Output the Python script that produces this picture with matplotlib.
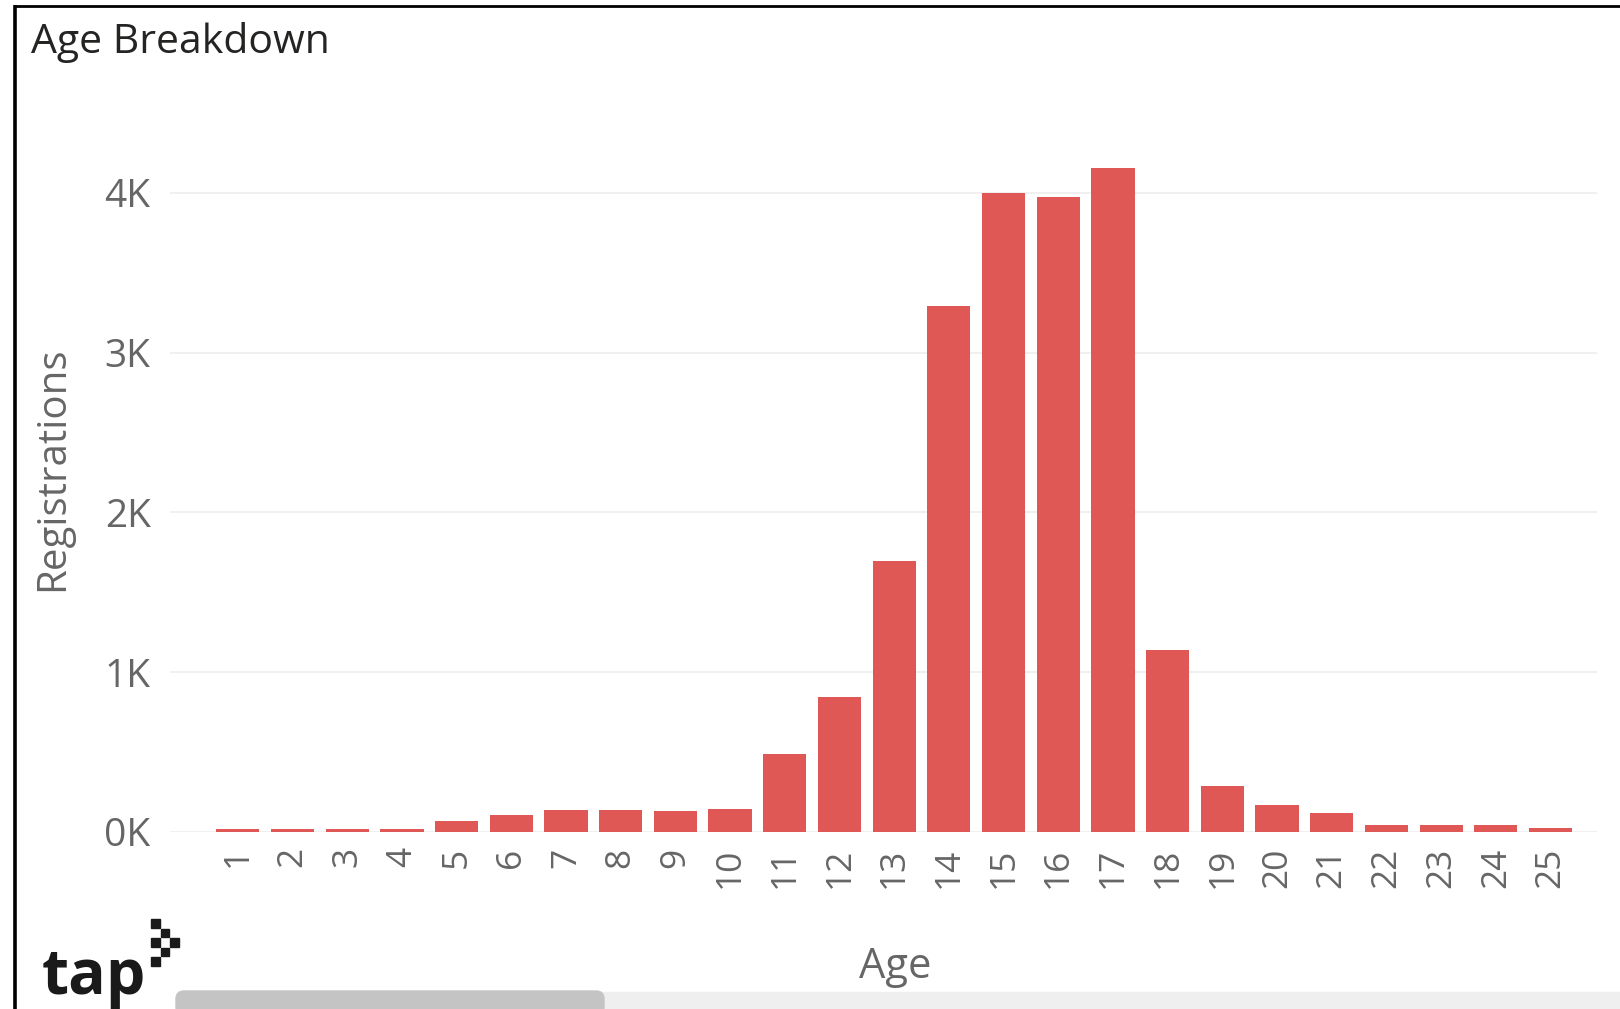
import matplotlib
matplotlib.use("Agg")
import matplotlib.pyplot as plt
from matplotlib.patches import Rectangle, FancyBboxPatch

# data
ages = list(range(1, 26))
registrations = [18, 18, 18, 18, 69, 106, 138, 138, 131, 142, 486, 847, 1696,
                 3290, 4002, 3973, 4155, 1140, 288, 169, 121, 42, 42, 42, 23]
y_ticks = [0, 1000, 2000, 3000, 4000]
y_tick_labels = ["0K", "1K", "2K", "3K", "4K"]

W, H = 1620, 1009
BAR_COLOR = "#DF5855"
GREY = "#666666"

plt.rcParams['font.family'] = ['Open Sans', 'DejaVu Sans']

fig = plt.figure(figsize=(W / 100, H / 100), dpi=100)
fig.patch.set_facecolor("white")

# overlay for frame, logo and scrollbar (pixel coords)
deco = fig.add_axes([0, 0, 1, 1], zorder=0)
deco.set_xlim(0, W)
deco.set_ylim(H, 0)
deco.axis('off')

# main chart
left, right, top, bottom = 170, 1597, 113, 832
ax = fig.add_axes([left / W, 1 - bottom / H, (right - left) / W, (bottom - top) / H], zorder=1)
ax.set_facecolor("none")
ax.bar(ages, registrations, width=0.79, color=BAR_COLOR, zorder=2)
ax.set_xlim(-0.24, 25.85)
ax.set_ylim(0, 4500)
ax.set_yticks(y_ticks)
ax.set_yticklabels(y_tick_labels)
ax.set_xticks(ages)
ax.set_xticklabels([str(a) for a in ages], rotation=90)
ax.grid(axis='y', color="#EEEEEE", linewidth=1.2, zorder=0)
ax.tick_params(axis='y', length=0, pad=14, labelsize=28, labelcolor=GREY)
ax.tick_params(axis='x', length=0, pad=11, labelsize=25.5, labelcolor=GREY)
for s in ax.spines.values():
    s.set_visible(False)

ax.set_ylabel("Registrations", fontsize=29, color=GREY)
ax.yaxis.set_label_coords(-0.068, 0.505)
ax.set_xlabel("Age", fontsize=30, color=GREY)
ax.xaxis.set_label_coords(0.508, -0.158)

fig.text(31 / W, 1 - 22 / H, "Age Breakdown", fontsize=29.5, color="#252423",
         ha='left', va='top')

# frame lines (top and left only are visible in the crop)
deco.plot([15, 15], [5, H], color="black", lw=2.6, solid_capstyle='butt')
deco.plot([14, W], [6, 6], color="black", lw=2.0, solid_capstyle='butt')

# tap logo
deco.text(42, 994, "tap", fontsize=45, fontweight='bold', color="#1A1A1A",
          ha='left', va='baseline')
cell = 9.5
for r in range(5):
    for c in range(3):
        if c <= min(r, 4 - r) and (r + c) % 2 == 0:
            deco.add_patch(Rectangle((151 + c * cell, 919 + r * cell), cell - 1, cell - 1,
                                     color="#1A1A1A"))

# scrollbar
deco.add_patch(Rectangle((600, 992), W - 600, 20, color="#EFEFEF"))
deco.add_patch(FancyBboxPatch((176, 991), 428, 24, boxstyle="round,pad=0,rounding_size=8",
                              color="#C4C4C4"))

fig.savefig("out.png", dpi=100)
